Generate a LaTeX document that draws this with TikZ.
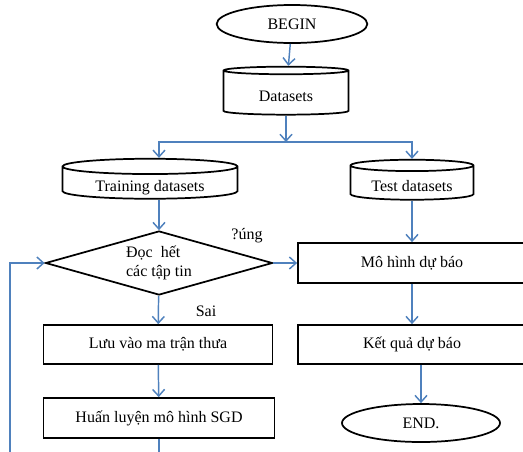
\documentclass[tikz,border=0pt]{standalone}
\usepackage{fontspec}
\setmainfont{Liberation Serif}
\usetikzlibrary{shapes.geometric,arrows.meta}
\definecolor{flowblue}{RGB}{79,129,189}

\begin{document}
\begin{tikzpicture}[x=0.75pt,y=-0.75pt,
  font=\fontsize{12}{14}\selectfont,
  every node/.style={inner sep=0pt},
  term/.style={draw,ellipse,line width=1.3pt,minimum height=28.5pt},
  drum/.style={draw,cylinder,shape border rotate=90,aspect=0.14,line width=1.3pt,
    text height=12pt,text depth=0pt},
  box/.style={draw,rectangle,line width=1.3pt},
  decide/.style={draw,diamond,aspect=3.5,line width=1.3pt,align=left},
  flow/.style={draw=flowblue,line width=1.1pt,-{Straight Barb[length=5pt,width=9pt]}}]
\path[use as bounding box,clip] (0,0) rectangle (523,451);
% start and data
\node[term,minimum width=113pt] (begin) at (292,24) {BEGIN};
\node[drum,minimum width=93.75pt,minimum height=36pt] (data) at (286,93) {Datasets};
\coordinate (split) at (286,142);
\node[drum,minimum width=131.25pt,minimum height=30pt] (train) at (150,183) {Training datasets};
\node[drum,minimum width=92.25pt,minimum height=30pt] (test) at (412,183) {Test datasets};
% left column
\node[decide,minimum width=170.25pt,minimum height=48pt] (read) at (159,263) {Đọc\ \ hết\\các tập tin};
\node[box,minimum width=171.75pt,minimum height=29.25pt] (store) at (158,344.5) {Lưu vào ma trận thưa};
\node[box,minimum width=173.25pt,minimum height=30pt] (sgd) at (159,418) {Huấn luyện mô hình SGD};
% right column
\node[box,minimum width=171pt,minimum height=30pt] (model) at (412,263) {Mô hình dự báo};
\node[box,minimum width=171pt,minimum height=29.25pt] (result) at (412,344.5) {Kết quả dự báo};
\node[term,minimum width=118.5pt] (end) at (421,423) {END.};
\node (yes) at (247,236) {?úng};
\node (no) at (206,311) {Sai};
\coordinate (loop) at (10,475);
% connectors
\draw[flow] (begin) -- (data);
\draw[flow] (data) -- (split);
\draw[flow] (split) -| (read.north |- train.north);
\draw[flow] (split) -| (test.north);
\draw[flow] (read.north |- train.south) -- (read.north);
\draw[flow] (test) -- (model);
\draw[flow] (read) -- (model);
\draw[flow] (read) -- (store);
\draw[flow] (store) -- (sgd);
\draw[flow] (model) -- (result);
\draw[flow] (result.south -| end.north) -- (end);
\draw[flow] (sgd) |- (loop) |- (read.west);
\end{tikzpicture}
\end{document}
